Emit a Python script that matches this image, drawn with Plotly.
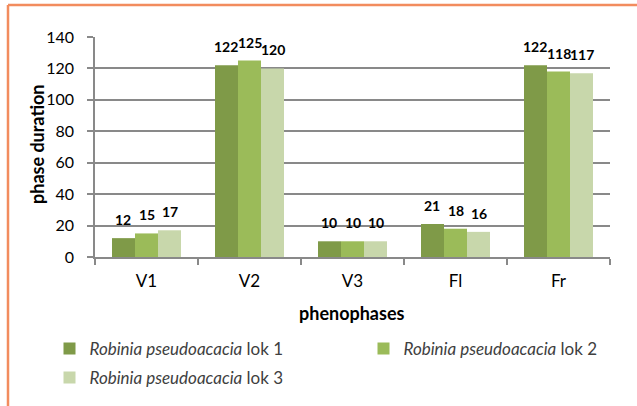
import plotly.graph_objects as go

categories = ["V1", "V2", "V3", "Fl", "Fr"]
lok1 = [12, 122, 10, 21, 122]
lok2 = [15, 125, 10, 18, 118]
lok3 = [17, 120, 10, 16, 117]
series_names = ["<i>Robinia pseudoacacia</i> lok 1",
                "<i>Robinia pseudoacacia</i> lok 2",
                "<i>Robinia pseudoacacia</i> lok 3"]
colors = ["#7F9A48", "#9BBB59", "#C8D7AB"]

FONT = "Lato"
W, H = 637, 406
L, R, T, B = 95, 27, 37, 149
pw, ph = W - L - R, H - T - B
BARGAP = 0.33

def px2x(px):
    return (px - L) / pw

def py2y(py):
    return (H - B - py) / ph

legend_ids = ["legend", "legend2", "legend3"]
legend_pos = [(49.5, 331), (363.5, 331), (49.5, 360)]

fig = go.Figure()
series = [lok1, lok2, lok3]
for i, (vals, name) in enumerate(zip(series, series_names)):
    fig.add_trace(go.Bar(
        x=categories, y=vals, name=name,
        marker=dict(color=colors[i], line=dict(width=0)),
        legend=legend_ids[i],
    ))

# data labels above each bar (positioned via data coordinates + pixel offset of the group slot)
cat_px = pw / len(categories)
bar_px = cat_px * (1 - BARGAP) / len(series)
for i, vals in enumerate(series):
    for c, v in zip(categories, vals):
        fig.add_annotation(x=c, y=v, xref="x", yref="y", text=f"<b>{v}</b>",
                           showarrow=False, xanchor="center", yanchor="bottom",
                           xshift=(i - 1) * bar_px, yshift=8,
                           font=dict(family=FONT, size=14, color="#000000"))

legend_common = dict(orientation="h", xanchor="left", yanchor="top",
                     font=dict(family=FONT, size=17, color="#404040"),
                     itemwidth=30, bgcolor="rgba(0,0,0,0)")
legends = {}
for lid, (lx, ly) in zip(legend_ids, legend_pos):
    legends[lid] = dict(x=px2x(lx), y=py2y(ly), **legend_common)

fig.update_layout(
    width=W, height=H,
    margin=dict(l=L, r=R, t=T, b=B, autoexpand=False),
    paper_bgcolor="white", plot_bgcolor="white",
    barmode="group", bargap=BARGAP, bargroupgap=0,
    font=dict(family=FONT, color="#000000"),
    showlegend=True,
    **legends,
)

fig.update_xaxes(
    showgrid=False, showline=True, linecolor="#898989", linewidth=1.5,
    ticks="outside", tickson="boundaries", ticklen=6, tickcolor="#898989", tickwidth=1.5,
    tickfont=dict(family=FONT, size=17, color="#000000"),
    ticklabelstandoff=8,
    automargin=False,
)
fig.update_yaxes(
    range=[0, 140], dtick=20, showgrid=True, gridcolor="#898989", gridwidth=1.5,
    showline=True, linecolor="#898989", linewidth=1.5,
    ticks="outside", ticklen=6, tickcolor="#898989", tickwidth=1.5,
    tickfont=dict(family=FONT, size=16, color="#000000"),
    ticklabelstandoff=10,
    zeroline=False, automargin=False,
)

fig.add_annotation(text="<b>phase duration</b>", xref="paper", yref="paper",
                   x=px2x(37), y=py2y(145), textangle=-90, showarrow=False,
                   xanchor="center", yanchor="middle",
                   font=dict(family=FONT, size=18, color="#000000"))
fig.add_annotation(text="<b>phenophases</b>", xref="paper", yref="paper",
                   x=px2x(352), y=py2y(313), showarrow=False,
                   xanchor="center", yanchor="middle",
                   font=dict(family=FONT, size=18, color="#000000"))

border = "#F28C5E"
fig.add_shape(type="line", xref="paper", yref="paper",
              x0=px2x(8), x1=px2x(640), y0=py2y(5), y1=py2y(5),
              line=dict(color=border, width=2.5))
fig.add_shape(type="line", xref="paper", yref="paper",
              x0=px2x(8), x1=px2x(8), y0=py2y(5), y1=py2y(410),
              line=dict(color=border, width=2.5))

fig.write_html("out.html", config={"displayModeBar": False},
               post_script="document.body.style.margin='0';document.body.style.overflow='hidden';")
